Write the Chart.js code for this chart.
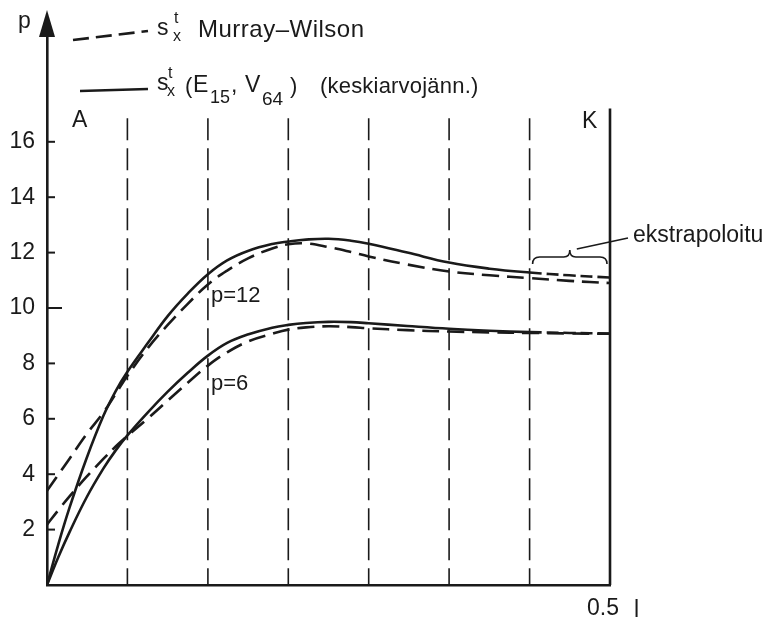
<!DOCTYPE html>
<html>
<head>
<meta charset="utf-8">
<script src="https://cdn.jsdelivr.net/npm/chart.js@4"></script>
<style>
  html, body { margin: 0; padding: 0; background: #fff; }
  canvas { display: block; }
</style>
</head>
<body>
<canvas id="chart" width="777" height="623"></canvas>
<script>
// l along the axis (0 .. 0.5), and p for each curve at those points
const lValues = [0, 0.01, 0.02, 0.035, 0.05, 0.061, 0.0714, 0.09, 0.107, 0.125, 0.1429, 0.16, 0.179,
  0.2, 0.2143, 0.23, 0.25, 0.27, 0.2857, 0.32, 0.3571, 0.393, 0.4286, 0.464, 0.5];

const p12Mean = [0, 1.46, 2.79, 4.56, 6.1, 7.0, 7.7, 8.76, 9.7, 10.52, 11.22, 11.72, 12.07,
  12.31, 12.4, 12.47, 12.5, 12.43, 12.32, 12.0, 11.64, 11.42, 11.28, 11.18, 11.1];
const p12Murray = [3.4, 3.98, 4.56, 5.44, 6.22, 6.9, 7.55, 8.58, 9.38, 10.15, 10.85, 11.35, 11.8,
  12.15, 12.3, 12.33, 12.2, 12.02, 11.86, 11.57, 11.32, 11.18, 11.08, 10.98, 10.9];
const p6Mean = [0, 1.0, 1.91, 3.15, 4.2, 4.86, 5.4, 6.25, 6.97, 7.66, 8.28, 8.74, 9.05,
  9.29, 9.39, 9.46, 9.5, 9.49, 9.45, 9.35, 9.25, 9.18, 9.13, 9.1, 9.08];
const p6Murray = [2.18, 2.7, 3.2, 3.9, 4.55, 5.0, 5.38, 6.03, 6.65, 7.3, 7.92, 8.4, 8.8,
  9.07, 9.22, 9.3, 9.34, 9.31, 9.27, 9.2, 9.15, 9.12, 9.1, 9.08, 9.07];

const yTicks = [2, 4, 6, 8, 10, 12, 14, 16];
const dividers = [0.0714, 0.1429, 0.2143, 0.2857, 0.3571, 0.4286];
const extrapFrom = 0.4286;
const lEnd = 0.5;

const INK = '#1a1a1a';
const FONT = '"Liberation Sans", Arial, Helvetica, sans-serif';

function toPoints(ys) {
  return lValues.map((x, i) => ({ x, y: ys[i] }));
}

function curve(label, ys, dashed) {
  return {
    label,
    data: toPoints(ys),
    borderColor: INK,
    borderWidth: 2.6,
    borderDash: dashed ? [17, 8] : [],
    pointRadius: 0,
    fill: false,
    tension: 0.4,
    segment: dashed ? undefined : {
      // past the last measured section the mean curve is only extrapolated
      borderDash: c => (c.p0.parsed.x >= extrapFrom - 1e-6 ? [12, 5] : [])
    }
  };
}

function text(ctx, str, x, y, size, spacing) {
  ctx.font = size + 'px ' + FONT;
  ctx.letterSpacing = (spacing || 0) + 'px';
  ctx.textAlign = 'left';
  ctx.textBaseline = 'alphabetic';
  ctx.fillText(str, x, y);
  ctx.letterSpacing = '0px';
}

// s with superscript t and subscript x
function sSymbol(ctx, x, y, dx) {
  text(ctx, 's', x, y, 23);
  text(ctx, 't', x + dx + 1, y - 12, 16);
  text(ctx, 'x', x + dx, y + 6, 16);
}

const paper = {
  id: 'paper',
  beforeDatasetsDraw(chart) {
    const { ctx, scales: { x, y } } = chart;
    const x0 = x.getPixelForValue(0);
    const y0 = y.getPixelForValue(0);
    ctx.save();
    ctx.strokeStyle = INK;

    // section dividers
    ctx.lineWidth = 1.6;
    ctx.setLineDash([22, 8]);
    dividers.forEach(v => {
      const px = x.getPixelForValue(v);
      ctx.beginPath();
      ctx.moveTo(px, y.getPixelForValue(16.85));
      ctx.lineTo(px, y0);
      ctx.stroke();
    });
    ctx.setLineDash([]);

    // end line K
    const xk = x.getPixelForValue(lEnd);
    ctx.lineWidth = 2.6;
    ctx.beginPath();
    ctx.moveTo(xk, y.getPixelForValue(17.2));
    ctx.lineTo(xk, y0);
    ctx.stroke();

    // inward tick marks
    ctx.lineWidth = 2;
    yTicks.forEach(v => {
      const py = y.getPixelForValue(v);
      ctx.beginPath();
      ctx.moveTo(x0, py);
      ctx.lineTo(x0 + (v === 10 ? 15 : 8), py);
      ctx.stroke();
    });

    // arrow head on the p axis
    ctx.fillStyle = INK;
    ctx.beginPath();
    ctx.moveTo(x0, 10);
    ctx.lineTo(x0 - 8, 37);
    ctx.lineTo(x0 + 8, 37);
    ctx.closePath();
    ctx.fill();
    ctx.restore();
  },
  afterDraw(chart) {
    const { ctx, scales: { x } } = chart;
    ctx.save();
    ctx.fillStyle = INK;
    ctx.strokeStyle = INK;

    text(ctx, 'p', 18, 28, 23);
    text(ctx, 'A', 72, 127, 23);
    text(ctx, 'K', 582, 128, 23);
    text(ctx, '0.5', x.getPixelForValue(lEnd) - 23, 615, 23);
    text(ctx, 'l', 634, 617, 23);
    text(ctx, 'p=12', x.getPixelForValue(dividers[1]) + 3, 302, 22);
    text(ctx, 'p=6', x.getPixelForValue(dividers[1]) + 3, 390, 22);

    // legend
    ctx.lineWidth = 2.6;
    ctx.setLineDash([16, 7]);
    ctx.beginPath();
    ctx.moveTo(73, 40);
    ctx.lineTo(148, 31);
    ctx.stroke();
    ctx.setLineDash([]);
    ctx.beginPath();
    ctx.moveTo(80, 91);
    ctx.lineTo(148, 89);
    ctx.stroke();

    sSymbol(ctx, 157, 35, 16);
    text(ctx, 'Murray\u2013Wilson', 198, 37, 24, 0.5);
    sSymbol(ctx, 157, 90, 10);
    text(ctx, '(', 185, 93, 22);
    text(ctx, 'E', 193, 92, 23);
    text(ctx, '15', 210, 103, 18);
    text(ctx, ',', 231, 92, 23);
    text(ctx, 'V', 245, 92, 23);
    text(ctx, '64', 262, 105, 19);
    text(ctx, ')', 290, 93, 22);
    text(ctx, '(keskiarvoj\u00e4nn.)', 320, 93, 22, 0.2);

    // brace over the extrapolated section
    const bx1 = x.getPixelForValue(extrapFrom) + 3;
    const bx2 = x.getPixelForValue(lEnd) - 3;
    const bm = (bx1 + bx2) / 2;
    const by = 257;
    ctx.lineWidth = 1.6;
    ctx.beginPath();
    ctx.moveTo(bx1, by + 7);
    ctx.quadraticCurveTo(bx1, by, bx1 + 7, by);
    ctx.lineTo(bm - 6, by);
    ctx.quadraticCurveTo(bm, by, bm, by - 7);
    ctx.quadraticCurveTo(bm, by, bm + 6, by);
    ctx.lineTo(bx2 - 7, by);
    ctx.quadraticCurveTo(bx2, by, bx2, by + 7);
    ctx.stroke();
    ctx.beginPath();
    ctx.moveTo(bm + 7, by - 8);
    ctx.lineTo(628, 238);
    ctx.stroke();
    text(ctx, 'ekstrapoloitu', 633, 242, 23);
    ctx.restore();
  }
};

new Chart(document.getElementById('chart'), {
  type: 'line',
  data: {
    datasets: [
      curve('p=12 keskiarvojänn.', p12Mean, false),
      curve('p=12 Murray-Wilson', p12Murray, true),
      curve('p=6 keskiarvojänn.', p6Mean, false),
      curve('p=6 Murray-Wilson', p6Murray, true)
    ]
  },
  options: {
    responsive: false,
    animation: false,
    layout: { padding: { top: 31, right: 167, left: 0, bottom: 0 } },
    plugins: { legend: { display: false }, tooltip: { enabled: false } },
    scales: {
      x: {
        type: 'linear',
        min: 0,
        max: lEnd,
        grid: { display: false, drawTicks: false },
        border: { display: true, width: 2.6, color: INK },
        ticks: { display: false },
        afterFit: s => { s.height = 38; }
      },
      y: {
        min: 0,
        max: 20,
        afterBuildTicks: s => { s.ticks = yTicks.map(v => ({ value: v })); },
        afterFit: s => { s.width = 47; },
        grid: { display: false, drawTicks: false },
        border: { display: true, width: 2.6, color: INK },
        ticks: {
          color: INK,
          padding: 12,
          font: { size: 23, family: FONT }
        }
      }
    }
  },
  plugins: [paper]
});
</script>
</body>
</html>
